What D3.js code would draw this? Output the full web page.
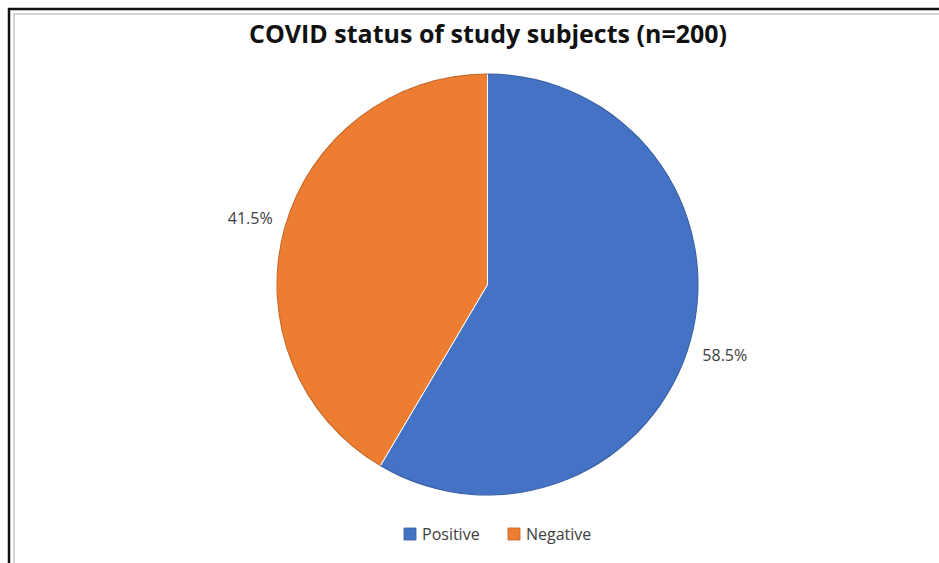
<!DOCTYPE html>
<html>
<head>
<meta charset="utf-8">
<script src="https://cdn.jsdelivr.net/npm/d3@7"></script>
<style>
  html, body { margin: 0; padding: 0; background: #fff; }
  svg { display: block; }
</style>
</head>
<body>
<svg id="chart" width="939" height="563"></svg>
<script>
const categories = ["Positive", "Negative"];
const values = [58.5, 41.5];
const labels = ["58.5%", "41.5%"];
const colors = ["#4472C4", "#ED7D31"];
const title = "COVID status of study subjects (n=200)";

const svg = d3.select("#chart");
const W = 939, H = 563;

// frame
svg.append("rect").attr("x", 0).attr("y", 0).attr("width", W).attr("height", H).attr("fill", "#fff");
svg.append("path").attr("d", `M9,${H} L9,9 L${W},9`).attr("fill", "none").attr("stroke", "#111").attr("stroke-width", 2.5);
svg.append("path").attr("d", `M14,${H} L14,14 L${W},14`).attr("fill", "none").attr("stroke", "#c8c8c8").attr("stroke-width", 1.5);

// title
svg.append("text")
  .attr("x", 488).attr("y", 43)
  .attr("text-anchor", "middle")
  .attr("font-family", "'Open Sans', Lato, sans-serif")
  .attr("font-weight", "bold")
  .attr("font-size", 25)
  .attr("fill", "#111")
  .text(title);

const cx = 487.5, cy = 284.5, r = 211;
const data = categories.map((c, i) => ({ cat: c, value: values[i], label: labels[i], color: colors[i] }));
const pie = d3.pie().value(d => d.value).sort(null);
const arc = d3.arc().innerRadius(0).outerRadius(r);
const labelArc = d3.arc().innerRadius(246).outerRadius(246);

const g = svg.append("g").attr("transform", `translate(${cx},${cy})`);
const arcs = pie(data);
g.selectAll("path.slice").data(arcs).join("path")
  .attr("class", "slice")
  .attr("d", arc)
  .attr("fill", d => d.data.color)
  .attr("stroke", "#fff")
  .attr("stroke-width", 1);

// subtle darker rim like the reference
g.selectAll("path.rim").data(arcs).join("path")
  .attr("class", "rim")
  .attr("d", d3.arc().innerRadius(r - 1).outerRadius(r))
  .attr("fill", d => d3.color(d.data.color).darker(0.6));

g.selectAll("text.lbl").data(arcs).join("text")
  .attr("class", "lbl")
  .attr("transform", d => { const [x, y] = labelArc.centroid(d); return `translate(${x},${y})`; })
  .attr("text-anchor", "middle")
  .attr("dy", (d, i) => i === 0 ? "0.75em" : "0.3em")
  .attr("font-family", "'Open Sans', 'DejaVu Sans', sans-serif")
  .attr("font-size", 16)
  .attr("fill", "#404040")
  .text(d => d.data.label);

// legend
const legend = svg.append("g").attr("transform", "translate(404,534)");
const itemX = [0, 104];
const items = legend.selectAll("g").data(data).join("g")
  .attr("transform", (d, i) => `translate(${itemX[i]},0)`);
items.append("rect").attr("x", 0).attr("y", -6).attr("width", 12).attr("height", 12)
  .attr("fill", d => d.color)
  .attr("stroke", d => d3.color(d.color).darker(0.6)).attr("stroke-width", 0.8);
items.append("text").attr("x", 18).attr("y", 0).attr("dy", "0.35em")
  .attr("font-family", "'Open Sans', 'DejaVu Sans', sans-serif")
  .attr("font-size", 16).attr("fill", "#404040")
  .text(d => d.cat);
</script>
</body>
</html>
